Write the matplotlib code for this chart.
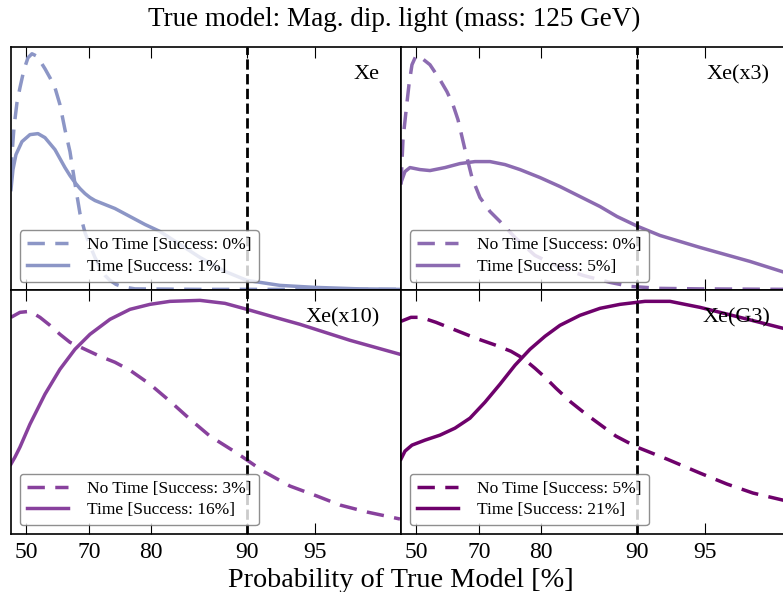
import numpy as np
import matplotlib
matplotlib.use('Agg')
import matplotlib.pyplot as plt

plt.rcParams['font.family'] = 'serif'
plt.rcParams['font.serif'] = ['Liberation Serif', 'DejaVu Serif']

detectors = ['Xe', 'Xe(x3)', 'Xe(x10)', 'Xe(G3)']
colors = ['#8c96c6', '#8c6bb1', '#88419d', '#6e016b']
success_notime = [0, 0, 3, 5]
success_time = [1, 5, 16, 21]

# position of the probability ticks on the score axis
tick_pos = [1.5, 7.8, 14.0, 23.6, 30.4]
tick_labels = ['50', '70', '80', '90', '95']
threshold = 23.6  # 90 %

# Xe
xe_nt_x = [0, 0.1, 0.3, 0.6, 0.9, 1.3, 1.7, 2.1, 2.5, 2.9, 3.4, 3.9, 4.4, 4.9, 5.4, 5.9,
           6.4, 6.9, 7.4, 7.9, 8.4, 8.9, 9.4, 9.9, 10.5, 11.2, 12.4, 18.9, 39]
xe_nt_y = [1.15, 1.35, 1.62, 1.87, 2.02, 2.20, 2.32, 2.36, 2.34, 2.29, 2.21, 2.12, 2.02, 1.85,
           1.60, 1.38, 1.06, 0.76, 0.57, 0.44, 0.32, 0.22, 0.14, 0.09, 0.05, 0.025, 0.005, 0, 0]
xe_t_x = [0, 0.2, 0.5, 1.1, 1.9, 2.7, 3.4, 4.4, 5.4, 5.9, 6.4, 6.9, 7.4, 7.9, 8.4, 9.4, 10.4,
          11.9, 13.4, 14.9, 16.9, 18.9, 21.4, 23.6, 26.9, 30.4, 34.9, 39]
xe_t_y = [1.00, 1.20, 1.35, 1.48, 1.55, 1.56, 1.52, 1.40, 1.22, 1.14, 1.07, 1.01, 0.96, 0.92,
          0.89, 0.85, 0.81, 0.73, 0.65, 0.58, 0.45, 0.32, 0.18, 0.09, 0.04, 0.02, 0.005, 0]

# Xe(x3)
x3_nt_x = [0, 0.2, 0.5, 0.8, 1.1, 1.5, 1.9, 2.9, 3.9, 4.6, 5.2, 5.7, 6.4, 7.1, 7.9, 8.9, 9.9,
           11.4, 13.4, 15.9, 18.2, 20.9, 22.9, 25.9, 29.9, 39]
x3_nt_y = [1.05, 1.50, 1.78, 2.05, 2.25, 2.34, 2.33, 2.25, 2.10, 1.98, 1.85, 1.70, 1.40, 1.12,
           0.92, 0.78, 0.68, 0.52, 0.34, 0.22, 0.14, 0.07, 0.03, 0.01, 0.005, 0]
x3_t_x = [0, 0.4, 0.9, 1.9, 2.9, 4.4, 5.9, 7.4, 8.9, 10.4, 11.9, 13.9, 15.9, 17.9, 19.9, 21.6,
          23.7, 25.9, 29.9, 34.9, 39]
x3_t_y = [1.07, 1.18, 1.22, 1.20, 1.19, 1.22, 1.26, 1.28, 1.28, 1.25, 1.20, 1.12, 1.03, 0.93,
          0.83, 0.73, 0.63, 0.54, 0.42, 0.28, 0.15]

# Xe(x10)
x10_nt_x = [0, 0.9, 1.9, 2.9, 3.9, 4.9, 5.9, 7.4, 8.9, 10.4, 11.9, 13.9, 15.9, 17.9, 19.9,
            22.6, 25.2, 27.9, 30.6, 32.9, 35.6, 38.9]
x10_nt_y = [2.16, 2.21, 2.22, 2.16, 2.08, 1.99, 1.91, 1.84, 1.77, 1.71, 1.63, 1.49, 1.32, 1.14,
            0.97, 0.80, 0.62, 0.47, 0.37, 0.28, 0.21, 0.14]
x10_t_x = [0, 0.4, 0.9, 1.9, 3.4, 4.9, 6.4, 7.9, 9.9, 11.9, 13.9, 15.9, 18.9, 21.4, 23.6,
           26.4, 28.9, 31.4, 33.9, 36.4, 38.9]
x10_t_y = [0.69, 0.76, 0.86, 1.09, 1.39, 1.64, 1.84, 1.99, 2.14, 2.24, 2.29, 2.32, 2.33, 2.30,
           2.24, 2.16, 2.09, 2.01, 1.93, 1.86, 1.79]

# Xe(G3)
g3_nt_x = [0, 1.0, 2.0, 3.5, 5.5, 7.5, 9.5, 11.0, 12.2, 13.4, 14.4, 15.5, 17.0, 18.5, 20.0,
           21.5, 23.6, 26.6, 29.9, 32.6, 35.2, 39]
g3_nt_y = [2.12, 2.16, 2.16, 2.11, 2.03, 1.95, 1.88, 1.82, 1.75, 1.65, 1.56, 1.45, 1.31, 1.19,
           1.08, 0.97, 0.86, 0.74, 0.60, 0.49, 0.40, 0.31]
g3_t_x = [0, 0.4, 1.1, 2.4, 3.9, 5.4, 6.9, 8.4, 9.9, 11.4, 12.9, 14.4, 15.9, 17.9, 19.9, 21.9,
          24.4, 26.9, 29.9, 33.9, 39]
g3_t_y = [0.74, 0.82, 0.88, 0.93, 0.98, 1.05, 1.15, 1.31, 1.49, 1.68, 1.84, 1.97, 2.08, 2.18,
          2.25, 2.29, 2.32, 2.32, 2.26, 2.16, 2.03]

notime = [(xe_nt_x, xe_nt_y), (x3_nt_x, x3_nt_y), (x10_nt_x, x10_nt_y), (g3_nt_x, g3_nt_y)]
withtime = [(xe_t_x, xe_t_y), (x3_t_x, x3_t_y), (x10_t_x, x10_t_y), (g3_t_x, g3_t_y)]

fig, axes = plt.subplots(2, 2, figsize=(7.83, 5.92), dpi=100, sharex=True)
fig.subplots_adjust(left=0.014, right=1.0102, bottom=0.098, top=0.921, wspace=0, hspace=0)

for i, ax in enumerate(axes.flat):
    c = colors[i]
    ax.plot(notime[i][0], notime[i][1], color=c, lw=2.5, dashes=(5, 3),
            dash_joinstyle='round', dash_capstyle='butt',
            label='No Time [Success: %d%%]' % success_notime[i])
    ax.plot(withtime[i][0], withtime[i][1], color=c, lw=2.5, solid_joinstyle='round',
            label='Time [Success: %d%%]' % success_time[i])
    ax.axvline(threshold, color='k', lw=2, ls='--')
    ax.text(0.946, 0.925, detectors[i], transform=ax.transAxes, ha='right', va='top',
            fontsize=16)
    ax.set_xlim(0, 39)
    ax.set_ylim(-0.01, 2.43)
    ax.set_yticks([])
    ax.set_xticks(tick_pos)
    ax.set_xticklabels(tick_labels)
    ax.tick_params(axis='x', direction='in', top=True, bottom=True, length=8, width=0.8,
                   labelsize=17, pad=6)
    for sp in ax.spines.values():
        sp.set_linewidth(1.2)
    leg = ax.legend(loc='lower left', fontsize=12.5, handlelength=2.4, handletextpad=1.1,
                    framealpha=0.8, fancybox=True, labelspacing=0.3)
    leg.get_frame().set_edgecolor('0.45')

fig.suptitle('True model: Mag. dip. light (mass: 125 GeV)', x=0.503, y=0.988, fontsize=19.5)
fig.text(0.512, 0.009, 'Probability of True Model [%]', ha='center', va='baseline',
         fontsize=20.3)

fig.savefig('out.png', dpi=100)
